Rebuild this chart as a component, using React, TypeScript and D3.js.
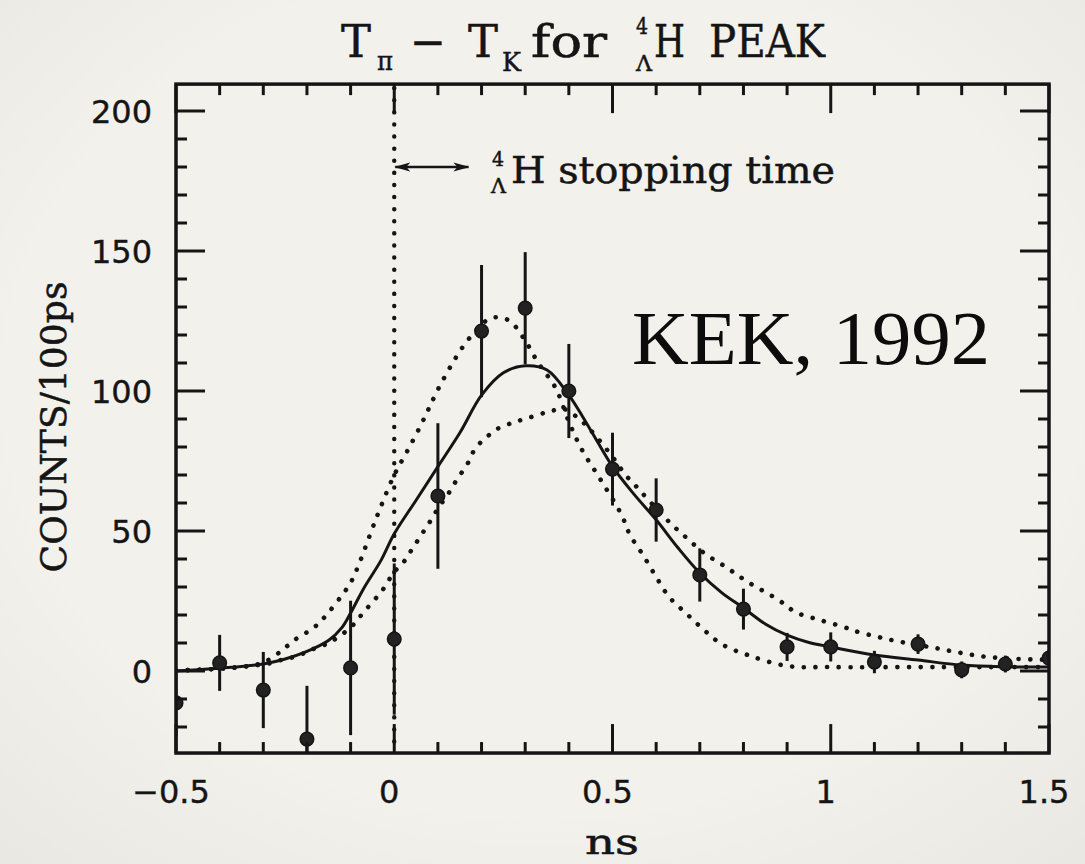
import React from 'react';
import * as d3 from 'd3';

// Canvas
const W = 1085;
const H = 864;
const INK = '#151515';
const PAPER = '#f3f1ec';

// Measured time differences (ns) and counts per 100 ps with statistical errors
const timeNs = [-0.5, -0.4, -0.3, -0.2, -0.1, 0, 0.1, 0.2, 0.3, 0.4, 0.5, 0.6, 0.7, 0.8, 0.9, 1.0, 1.1, 1.2, 1.3, 1.4, 1.5];
const counts = [-11.4, 2.9, -6.8, -24.3, 1.1, 11.4, 62.5, 121.4, 129.6, 100, 72.1, 57.5, 34.3, 22.1, 8.6, 8.6, 3.2, 9.6, 0.4, 2.5, 4.6];
const countErr = [12, 10, 13.6, 19, 24, 27, 26, 23.6, 20, 16.8, 13, 11.3, 9.5, 7.3, 5, 5.2, 4, 3.5, 3, 3, 3];

// Best fit (solid)
const fitX = [-0.5, -0.4, -0.3, -0.25, -0.2, -0.15, -0.12, -0.1, -0.07, -0.03, 0, 0.05, 0.1, 0.15, 0.2, 0.25, 0.3, 0.35, 0.4, 0.45, 0.5, 0.55, 0.6, 0.65, 0.7, 0.75, 0.8, 0.85, 0.9, 0.95, 1.0, 1.1, 1.2, 1.3, 1.4, 1.5];
const fitY = [0, 1, 2.5, 4.3, 7, 11, 15.5, 20.7, 29.5, 39.6, 49, 61, 73, 85, 98.5, 106.5, 109, 107.5, 98.5, 86, 73, 63, 54, 44, 35, 28, 22.5, 16.8, 12.8, 10.2, 8.6, 5.7, 3.9, 2.1, 1.5, 1.4];

// Short stopping-time curve (dotted, early)
const shortX = [-0.5, -0.4, -0.35, -0.3, -0.26, -0.24, -0.22, -0.19, -0.17, -0.15, -0.12, -0.1, -0.08, -0.05, -0.03, 0, 0.03, 0.06, 0.08, 0.1, 0.13, 0.16, 0.19, 0.22, 0.25, 0.27, 0.3, 0.33, 0.37, 0.4, 0.43, 0.47, 0.52, 0.54, 0.57, 0.6, 0.63, 0.67, 0.71, 0.75, 0.81, 0.9, 1.0, 1.2, 1.5];
const shortY = [0.2, 0.8, 1.5, 3, 7, 9.6, 12, 14.8, 17.5, 21, 27, 31.5, 38.5, 51, 59, 70, 78.6, 87.5, 94, 100.5, 109, 116.4, 122, 126, 126, 124.3, 118, 110, 101, 89, 79, 69, 56, 48.6, 41.4, 33.6, 26.4, 20.4, 14.6, 9.6, 5.7, 1.8, 1.4, 1.4, 1.4];

// Long stopping-time curve (dotted, late)
const longX = [-0.5, -0.4, -0.33, -0.28, -0.26, -0.23, -0.2, -0.18, -0.15, -0.13, -0.1, -0.085, -0.07, -0.05, -0.03, -0.015, 0, 0.02, 0.035, 0.05, 0.065, 0.08, 0.1, 0.125, 0.14, 0.155, 0.17, 0.18, 0.2, 0.22, 0.24, 0.27, 0.29, 0.32, 0.35, 0.37, 0.39, 0.42, 0.45, 0.5, 0.53, 0.555, 0.58, 0.63, 0.67, 0.71, 0.76, 0.81, 0.88, 0.92, 0.975, 1.03, 1.055, 1.11, 1.16, 1.24, 1.3, 1.36, 1.43, 1.5];
const longY = [0.2, 0.8, 1.8, 2.9, 3.9, 5, 6.8, 8.2, 10, 12, 15.5, 18.2, 21, 24.6, 28.2, 31.8, 35.4, 38.6, 42.1, 45.7, 49.3, 52.9, 58, 63.6, 67.5, 71, 74.6, 78, 82, 84.6, 86.8, 88.6, 89.6, 91, 92.5, 93.2, 93.5, 90.5, 86, 76.5, 70, 65.8, 61.5, 53.2, 47.5, 42.1, 37.1, 31.8, 25.4, 21, 18.2, 15.7, 14.3, 12.1, 10.4, 8.2, 6.4, 5, 4.3, 4];

// Axis ticks
const xMajor = [-0.5, 0, 0.5, 1, 1.5];
const xMajorLabels = ['−0.5', '0', '0.5', '1', '1.5'];
const yMajor = [0, 50, 100, 150, 200];
const yMajorLabels = ['0', '50', '100', '150', '200'];

// Axis extents
const xLo = -0.5;
const xHi = 1.5;
const yLo = -29.3;
const yHi = 209.6;

const x = d3.scaleLinear().domain([xLo, xHi]).range([176, 1049]);
const y = d3.scaleLinear().domain([0, 200]).range([671, 111]);

const xMinor = d3.range(-4, 15).map((k) => k / 10).filter((v) => !xMajor.some((m) => Math.abs(m - v) < 1e-9));
const yMinor = d3.range(-20, 210, 10).filter((v) => !yMajor.includes(v));

const MAJ = 29;
const MIN = 11;

const slab = '"DejaVu Serif", "Liberation Serif", serif';
const sans = '"DejaVu Sans", "Liberation Sans", sans-serif';

function Slab({ x0, y0, size, len, children, anchor }: { x0: number; y0: number; size: number; len?: number; children: React.ReactNode; anchor?: string }) {
  return (
    <text
      x={x0}
      y={y0}
      fontFamily={slab}
      fontSize={size}
      fill={INK}
      stroke={INK}
      strokeWidth={0.5}
      textAnchor={anchor || 'start'}
      textLength={len}
      lengthAdjust={len ? 'spacingAndGlyphs' : undefined}
    >
      {children}
    </text>
  );
}

export default function App() {
  const line = d3.line<[number, number]>().x((d) => x(d[0])).y((d) => y(d[1])).curve(d3.curveCatmullRom.alpha(0.5));
  const fitPath = line(d3.zip(fitX, fitY) as [number, number][]) || '';
  const shortPath = line(d3.zip(shortX, shortY) as [number, number][]) || '';
  const longPath = line(d3.zip(longX, longY) as [number, number][]) || '';

  const left = x(xLo);
  const right = x(xHi);
  const top = y(yHi);
  const bottom = y(yLo);

  const arrowY = y(180);
  const arrowX0 = x(0);
  const arrowX1 = x(0.17);

  return (
    <svg width={W} height={H} viewBox={`0 0 ${W} ${H}`} style={{ position: 'fixed', left: 0, top: 0, display: 'block' }}>
      <defs>
        <clipPath id="plotClip">
          <rect x={left} y={top} width={right - left} height={bottom - top} />
        </clipPath>
        <radialGradient id="vignette" cx="50%" cy="45%" r="75%">
          <stop offset="0.65" stopColor="#000" stopOpacity="0" />
          <stop offset="1" stopColor="#000" stopOpacity="0.04" />
        </radialGradient>
        <marker id="arrowHead" viewBox="0 0 16 10" refX="15" refY="5" markerWidth="16" markerHeight="10" markerUnits="userSpaceOnUse" orient="auto-start-reverse">
          <path d="M0,0.5 L16,5 L0,9.5 L4,5 Z" fill={INK} />
        </marker>
      </defs>

      <rect x={0} y={0} width={W} height={H} fill={PAPER} />

      {/* Title: T_pi - T_K for ^4_Lambda H PEAK */}
      <g>
        <Slab x0={341} y0={57} size={44} len={30}>T</Slab>
        <Slab x0={377} y0={70} size={26} len={16}>π</Slab>
        <Slab x0={410} y0={57} size={44} len={36}>−</Slab>
        <Slab x0={468} y0={57} size={44} len={30}>T</Slab>
        <Slab x0={502} y0={71} size={26} len={19}>K</Slab>
        <Slab x0={531} y0={57} size={44} len={76}>for</Slab>
        <Slab x0={636} y0={34} size={22} len={12}>4</Slab>
        <Slab x0={636} y0={71} size={22} len={16}>Λ</Slab>
        <Slab x0={654} y0={57} size={44} len={31}>H</Slab>
        <Slab x0={709} y0={57} size={44} len={116}>PEAK</Slab>
      </g>

      {/* Curves, data and vertical marker, clipped to the frame */}
      <g clipPath="url(#plotClip)">
        <line x1={x(0)} x2={x(0)} y1={top + 4} y2={bottom} stroke={INK} strokeWidth={4.4} strokeDasharray="0.1 12" strokeLinecap="round" />
        <path d={shortPath} fill="none" stroke={INK} strokeWidth={4.6} strokeDasharray="0.1 11.6" strokeLinecap="round" />
        <path d={longPath} fill="none" stroke={INK} strokeWidth={4.6} strokeDasharray="0.1 11.6" strokeLinecap="round" />
        <path d={fitPath} fill="none" stroke={INK} strokeWidth={3} />
        {timeNs.map((t, i) => (
          <g key={`pt${i}`}>
            <line x1={x(t)} x2={x(t)} y1={y(counts[i] - countErr[i])} y2={y(counts[i] + countErr[i])} stroke={INK} strokeWidth={3} />
            <circle cx={x(t)} cy={y(counts[i])} r={6.8} fill="#222" stroke={INK} strokeWidth={1.5} />
          </g>
        ))}
      </g>

      {/* Frame */}
      <rect x={left} y={top} width={right - left} height={bottom - top} fill="none" stroke={INK} strokeWidth={3.5} />

      {/* Ticks on all four sides, pointing inward */}
      <g stroke={INK} strokeWidth={3}>
        {xMajor.map((v) => (
          <g key={`xM${v}`}>
            <line x1={x(v)} x2={x(v)} y1={bottom} y2={bottom - MAJ} />
            <line x1={x(v)} x2={x(v)} y1={top} y2={top + MAJ} />
          </g>
        ))}
        {xMinor.map((v) => (
          <g key={`xm${v}`}>
            <line x1={x(v)} x2={x(v)} y1={bottom} y2={bottom - MIN} />
            <line x1={x(v)} x2={x(v)} y1={top} y2={top + MIN} />
          </g>
        ))}
        {yMajor.map((v) => (
          <g key={`yM${v}`}>
            <line x1={left} x2={left + MAJ} y1={y(v)} y2={y(v)} />
            <line x1={right} x2={right - MAJ} y1={y(v)} y2={y(v)} />
          </g>
        ))}
        {yMinor.map((v) => (
          <g key={`ym${v}`}>
            <line x1={left} x2={left + MIN} y1={y(v)} y2={y(v)} />
            <line x1={right} x2={right - MIN} y1={y(v)} y2={y(v)} />
          </g>
        ))}
      </g>

      {/* Tick labels */}
      <g fontFamily={sans} fontSize={32} fill={INK} stroke={INK} strokeWidth={0.4}>
        {yMajor.map((v, i) => (
          <text key={`yl${v}`} x={152} y={y(v) + 11.5} textAnchor="end">{yMajorLabels[i]}</text>
        ))}
        {xMajor.map((v, i) => (
          <text key={`xl${v}`} x={x(v) - 5} y={803} textAnchor="middle">{xMajorLabels[i]}</text>
        ))}
      </g>

      {/* Axis titles */}
      <Slab x0={612} y0={854} size={36} anchor="middle" len={54}>ns</Slab>
      <g transform={`translate(66, 427) rotate(-90)`}>
        <Slab x0={0} y0={0} size={35} anchor="middle" len={291}>COUNTS/100ps</Slab>
      </g>

      {/* Stopping-time annotation */}
      <line x1={arrowX0 + 1} x2={arrowX1} y1={arrowY} y2={arrowY} stroke={INK} strokeWidth={2.5} markerStart="url(#arrowHead)" markerEnd="url(#arrowHead)" />
      <Slab x0={492} y0={166} size={20} len={12}>4</Slab>
      <Slab x0={491} y0={193} size={20} len={15}>Λ</Slab>
      <Slab x0={511} y0={183} size={37} len={324}>H stopping time</Slab>

      {/* Experiment label */}
      <text x={632} y={364} fontFamily='"Liberation Serif", "DejaVu Serif", serif' fontSize={76} fill="#0c0c0c" textLength={358} lengthAdjust="spacingAndGlyphs">KEK, 1992</text>

      <rect x={0} y={0} width={W} height={H} fill="url(#vignette)" pointerEvents="none" />
    </svg>
  );
}
